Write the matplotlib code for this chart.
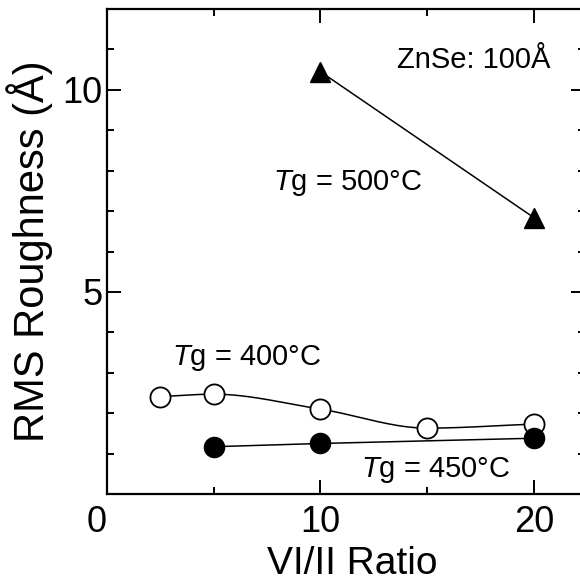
import numpy as np
import matplotlib
matplotlib.use("Agg")
import matplotlib.pyplot as plt
from matplotlib.ticker import MultipleLocator

# VI/II ratio vs. RMS roughness of 100 A ZnSe for three growth temperatures
ratio_400 = [2.5, 5, 10, 15, 20]
rms_400 = [2.41, 2.47, 2.10, 1.63, 1.73]

ratio_450 = [5, 10, 20]
rms_450 = [1.17, 1.25, 1.38]

ratio_500 = [10, 20]
rms_500 = [10.45, 6.84]

x_ticks = [0, 10, 20]
y_ticks = [5, 10]


def pchip(x, y, xs):
    # shape preserving cubic through the points (for the smooth guide line)
    x = np.asarray(x, float)
    y = np.asarray(y, float)
    h = np.diff(x)
    d = np.diff(y) / h
    m = np.zeros_like(y)
    m[0], m[-1] = d[0], d[-1]
    for k in range(1, len(x) - 1):
        if d[k - 1] * d[k] > 0:
            w1 = 2 * h[k] + h[k - 1]
            w2 = h[k] + 2 * h[k - 1]
            m[k] = (w1 + w2) / (w1 / d[k - 1] + w2 / d[k])
    idx = np.clip(np.searchsorted(x, xs) - 1, 0, len(h) - 1)
    t = (xs - x[idx]) / h[idx]
    h00 = 2 * t**3 - 3 * t**2 + 1
    h10 = t**3 - 2 * t**2 + t
    h01 = -2 * t**3 + 3 * t**2
    h11 = t**3 - t**2
    return (h00 * y[idx] + h10 * h[idx] * m[idx]
            + h01 * y[idx + 1] + h11 * h[idx] * m[idx + 1])


def main():
    plt.rcParams["font.family"] = ["Liberation Sans", "DejaVu Sans"]
    plt.rcParams["mathtext.fontset"] = "custom"
    plt.rcParams["mathtext.rm"] = "Liberation Sans"
    plt.rcParams["mathtext.it"] = "Liberation Sans:italic"

    fig = plt.figure(figsize=(5.8, 5.83), dpi=100)
    ax = fig.add_axes([107 / 580, 89 / 583, 478 / 580, 485 / 583])

    # 400 C: open circles on a smooth curve
    xs = np.linspace(ratio_400[0], ratio_400[-1], 300)
    ax.plot(xs, pchip(ratio_400, rms_400, xs), color="black", lw=1.1)
    ax.plot(ratio_400, rms_400, ls="none", marker="o", ms=14.5,
            mfc="white", mec="black", mew=1.3)

    # 450 C: filled circles
    ax.plot(ratio_450, rms_450, color="black", lw=1.1, marker="o",
            ms=14.5, mfc="black", mec="black")

    # 500 C: filled triangles
    ax.plot(ratio_500, rms_500, color="black", lw=1.1, marker="^",
            ms=15, mfc="black", mec="black")

    ax.text(7.8, 7.52, r"$\mathit{T}$g = 500°C", fontsize=21, va="baseline")
    ax.text(3.05, 3.19, r"$\mathit{T}$g = 400°C", fontsize=21, va="baseline")
    ax.text(11.9, 0.43, r"$\mathit{T}$g = 450°C", fontsize=21, va="baseline")
    ax.text(13.6, 10.54, "ZnSe: 100Å", fontsize=21, va="baseline")

    ax.set_xlim(0, 22.4)
    ax.set_ylim(0, 12)
    ax.set_xticks(x_ticks)
    ax.set_yticks(y_ticks)
    ax.xaxis.set_minor_locator(MultipleLocator(5))
    ax.yaxis.set_minor_locator(MultipleLocator(1))

    ax.tick_params(which="both", direction="in", top=True, right=True,
                   width=1.4)
    ax.tick_params(which="major", length=10, labelsize=26)
    ax.tick_params(which="minor", length=5)
    ax.tick_params(axis="x", pad=8)
    ax.tick_params(axis="y", pad=3)
    ax.get_xticklabels()[0].set_horizontalalignment("right")

    for sp in ax.spines.values():
        sp.set_linewidth(1.6)

    ax.set_xlabel("VI/II Ratio", fontsize=28)
    ax.set_ylabel("RMS Roughness (Å)", fontsize=30)
    ax.xaxis.set_label_coords(0.513, -0.107)
    ax.yaxis.set_label_coords(-0.112, 0.5)

    plt.savefig("out.png", dpi=100)


if __name__ == "__main__":
    main()
